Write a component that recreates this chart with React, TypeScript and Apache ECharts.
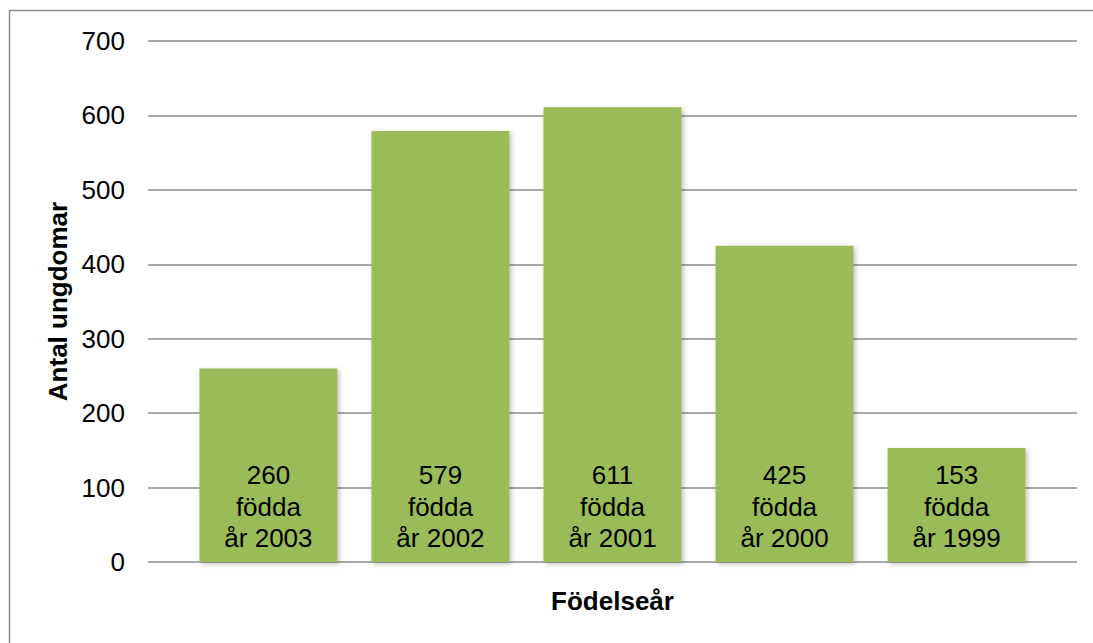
import React, { useEffect, useRef } from "react";
import * as echarts from "echarts";

const years = ["2003", "2002", "2001", "2000", "1999"];
const counts = [260, 579, 611, 425, 153];
const yTicks = { min: 0, max: 700, interval: 100 };

export default function App() {
  const ref = useRef<HTMLDivElement>(null);
  useEffect(() => {
    if (!ref.current) return;
    const chart = echarts.init(ref.current, undefined, { renderer: "svg" });
    const font = "'Liberation Sans', Arial, sans-serif";
    chart.setOption({
      animation: false,
      backgroundColor: "#ffffff",
      textStyle: { fontFamily: font },
      grid: { left: 148, right: 16, top: 41, bottom: 81 },
      graphic: [
        {
          type: "rect",
          shape: { x: 9.5, y: 10.5, width: 1200, height: 1000 },
          style: { fill: "none", stroke: "#8c8c8c", lineWidth: 1.5 },
          silent: true,
          z: 0,
        },
      ],
      xAxis: {
        type: "value",
        min: -0.7,
        max: 4.7,
        axisLine: { show: false },
        axisTick: { show: false },
        axisLabel: { show: false },
        splitLine: { show: false },
        name: "Födelseår",
        nameLocation: "middle",
        nameGap: 39,
        nameTextStyle: {
          fontFamily: font,
          fontSize: 26,
          fontWeight: "bold",
          color: "#000",
          verticalAlign: "middle",
        },
      },
      yAxis: {
        type: "value",
        min: yTicks.min,
        max: yTicks.max,
        interval: yTicks.interval,
        axisLine: { show: false },
        axisTick: { show: false },
        axisLabel: {
          fontFamily: font,
          fontSize: 26,
          color: "#000",
          margin: 23,
        },
        splitLine: { lineStyle: { color: "#8c8c8c", width: 1.5 } },
        name: "Antal ungdomar",
        nameLocation: "middle",
        nameRotate: 90,
        nameGap: 90,
        nameTextStyle: {
          fontFamily: font,
          fontSize: 26,
          fontWeight: "bold",
          color: "#000",
          verticalAlign: "middle",
        },
      },
      series: [
        {
          type: "bar",
          barWidth: 138,
          data: counts.map((v, i) => [i, v]),
          itemStyle: {
            color: "#9BBB59",
            shadowBlur: 5,
            shadowOffsetX: 2,
            shadowOffsetY: 2,
            shadowColor: "rgba(0,0,0,0.25)",
          },
          label: {
            show: true,
            position: "insideBottom",
            distance: 8,
            fontFamily: font,
            fontSize: 26,
            lineHeight: 31.5,
            color: "#000",
            align: "center",
            formatter: (p: any) =>
              `${counts[p.dataIndex]}\nfödda\når ${years[p.dataIndex]}`,
          },
        },
      ],
    });
    return () => chart.dispose();
  }, []);
  return (
    <div
      ref={ref}
      style={{ position: "absolute", left: 0, top: 0, width: 1093, height: 643 }}
    />
  );
}
